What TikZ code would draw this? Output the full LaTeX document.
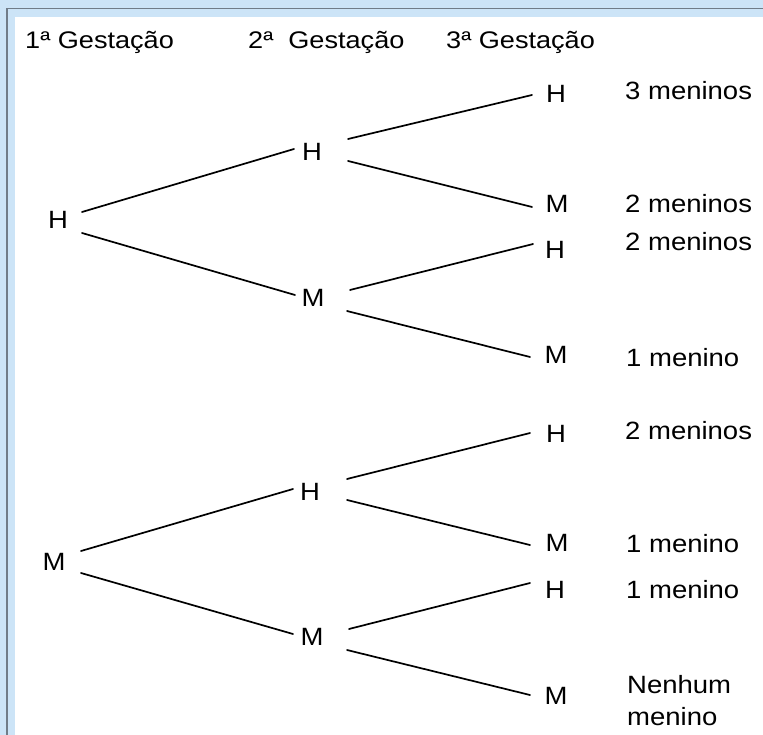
\documentclass[tikz,border=0pt]{standalone}
\usepackage{fontspec}
\usepackage{graphicx}
\setmainfont{Liberation Sans}
\definecolor{frameblue}{RGB}{204,228,247}
\definecolor{framegray}{RGB}{112,124,136}
\newcommand{\sx}[1]{\scalebox{1.1}[1]{#1}}
\newcommand{\hx}[1]{\scalebox{1.13}[1]{#1}}
\tikzset{
  nd/.style={inner sep=0pt, font=\fontsize{25}{30}\selectfont},
  lbl/.style={anchor=base west, inner sep=0pt, font=\fontsize{25}{32}\selectfont},
  hdr/.style={anchor=base west, inner sep=0pt, font=\fontsize{24}{29}\selectfont},
  br/.style={line width=1.7pt, black, line cap=round},
}
\begin{document}
\begin{tikzpicture}[x=1pt,y=-1pt]
\useasboundingbox (0,0) rectangle (763,735);
% frame
\fill[frameblue] (0,0) rectangle (763,735);
\fill[white] (15,17) rectangle (763,735);
\draw[framegray, line width=1.4pt] (7,735) -- (7,8.5) -- (763,8.5);

% headers
\node[hdr] (g1) at (25,49) {\hx{1ª Gestação}};
\node[hdr] (g2) at (248,49) {\hx{2ª~ Gestação}};
\node[hdr] (g3) at (446,49) {\hx{3ª Gestação}};

% level 1
\node[nd] (H1) at (58,220) {\sx{H}};
\node[nd] (M1) at (54,562) {\sx{M}};
% level 2
\node[nd] (HH) at (312,152) {\sx{H}};
\node[nd] (HM) at (313,298) {\sx{M}};
\node[nd] (MH) at (310,492) {\sx{H}};
\node[nd] (MM) at (312,637) {\sx{M}};
% level 3
\node[nd] (HHH) at (556,94) {\sx{H}};
\node[nd] (HHM) at (557,204) {\sx{M}};
\node[nd] (HMH) at (555,250) {\sx{H}};
\node[nd] (HMM) at (556,355) {\sx{M}};
\node[nd] (MHH) at (556,434) {\sx{H}};
\node[nd] (MHM) at (557,543) {\sx{M}};
\node[nd] (MMH) at (555,590) {\sx{H}};
\node[nd] (MMM) at (556,696) {\sx{M}};

% labels
\node[lbl] (l1) at (625,100) {\sx{3 meninos}};
\node[lbl] (l2) at (625,213) {\sx{2 meninos}};
\node[lbl] (l3) at (625,251) {\sx{2 meninos}};
\node[lbl] (l4) at (626,366) {\sx{1 menino}};
\node[lbl] (l5) at (625,439) {\sx{2 meninos}};
\node[lbl] (l6) at (626,552) {\sx{1 menino}};
\node[lbl] (l7) at (626,598) {\sx{1 menino}};
\node[lbl] (l8) at (627,693) {\sx{Nenhum}};
\node[lbl] (l9) at (627,725) {\sx{menino}};

% branches
\draw[br] ([shift={(24,-8)}]H1.center) -- ([shift={(-18,-3)}]HH.center);
\draw[br] ([shift={(24,13)}]H1.center) -- ([shift={(-18,-3)}]HM.center);
\draw[br] ([shift={(27,-11)}]M1.center) -- ([shift={(-17,-3)}]MH.center);
\draw[br] ([shift={(27,11)}]M1.center) -- ([shift={(-19,-3)}]MM.center);

\draw[br] ([shift={(36,-13)}]HH.center) -- ([shift={(-24,1)}]HHH.center);
\draw[br] ([shift={(36,9)}]HH.center) -- ([shift={(-25,3)}]HHM.center);
\draw[br] ([shift={(37,-8)}]HM.center) -- ([shift={(-22,-6)}]HMH.center);
\draw[br] ([shift={(34,13)}]HM.center) -- ([shift={(-26,2)}]HMM.center);
\draw[br] ([shift={(37,-13)}]MH.center) -- ([shift={(-26,-1)}]MHH.center);
\draw[br] ([shift={(37,8)}]MH.center) -- ([shift={(-27,2)}]MHM.center);
\draw[br] ([shift={(37,-8)}]MM.center) -- ([shift={(-25,-7)}]MMH.center);
\draw[br] ([shift={(35,13)}]MM.center) -- ([shift={(-26,-1)}]MMM.center);
\end{tikzpicture}
\end{document}
